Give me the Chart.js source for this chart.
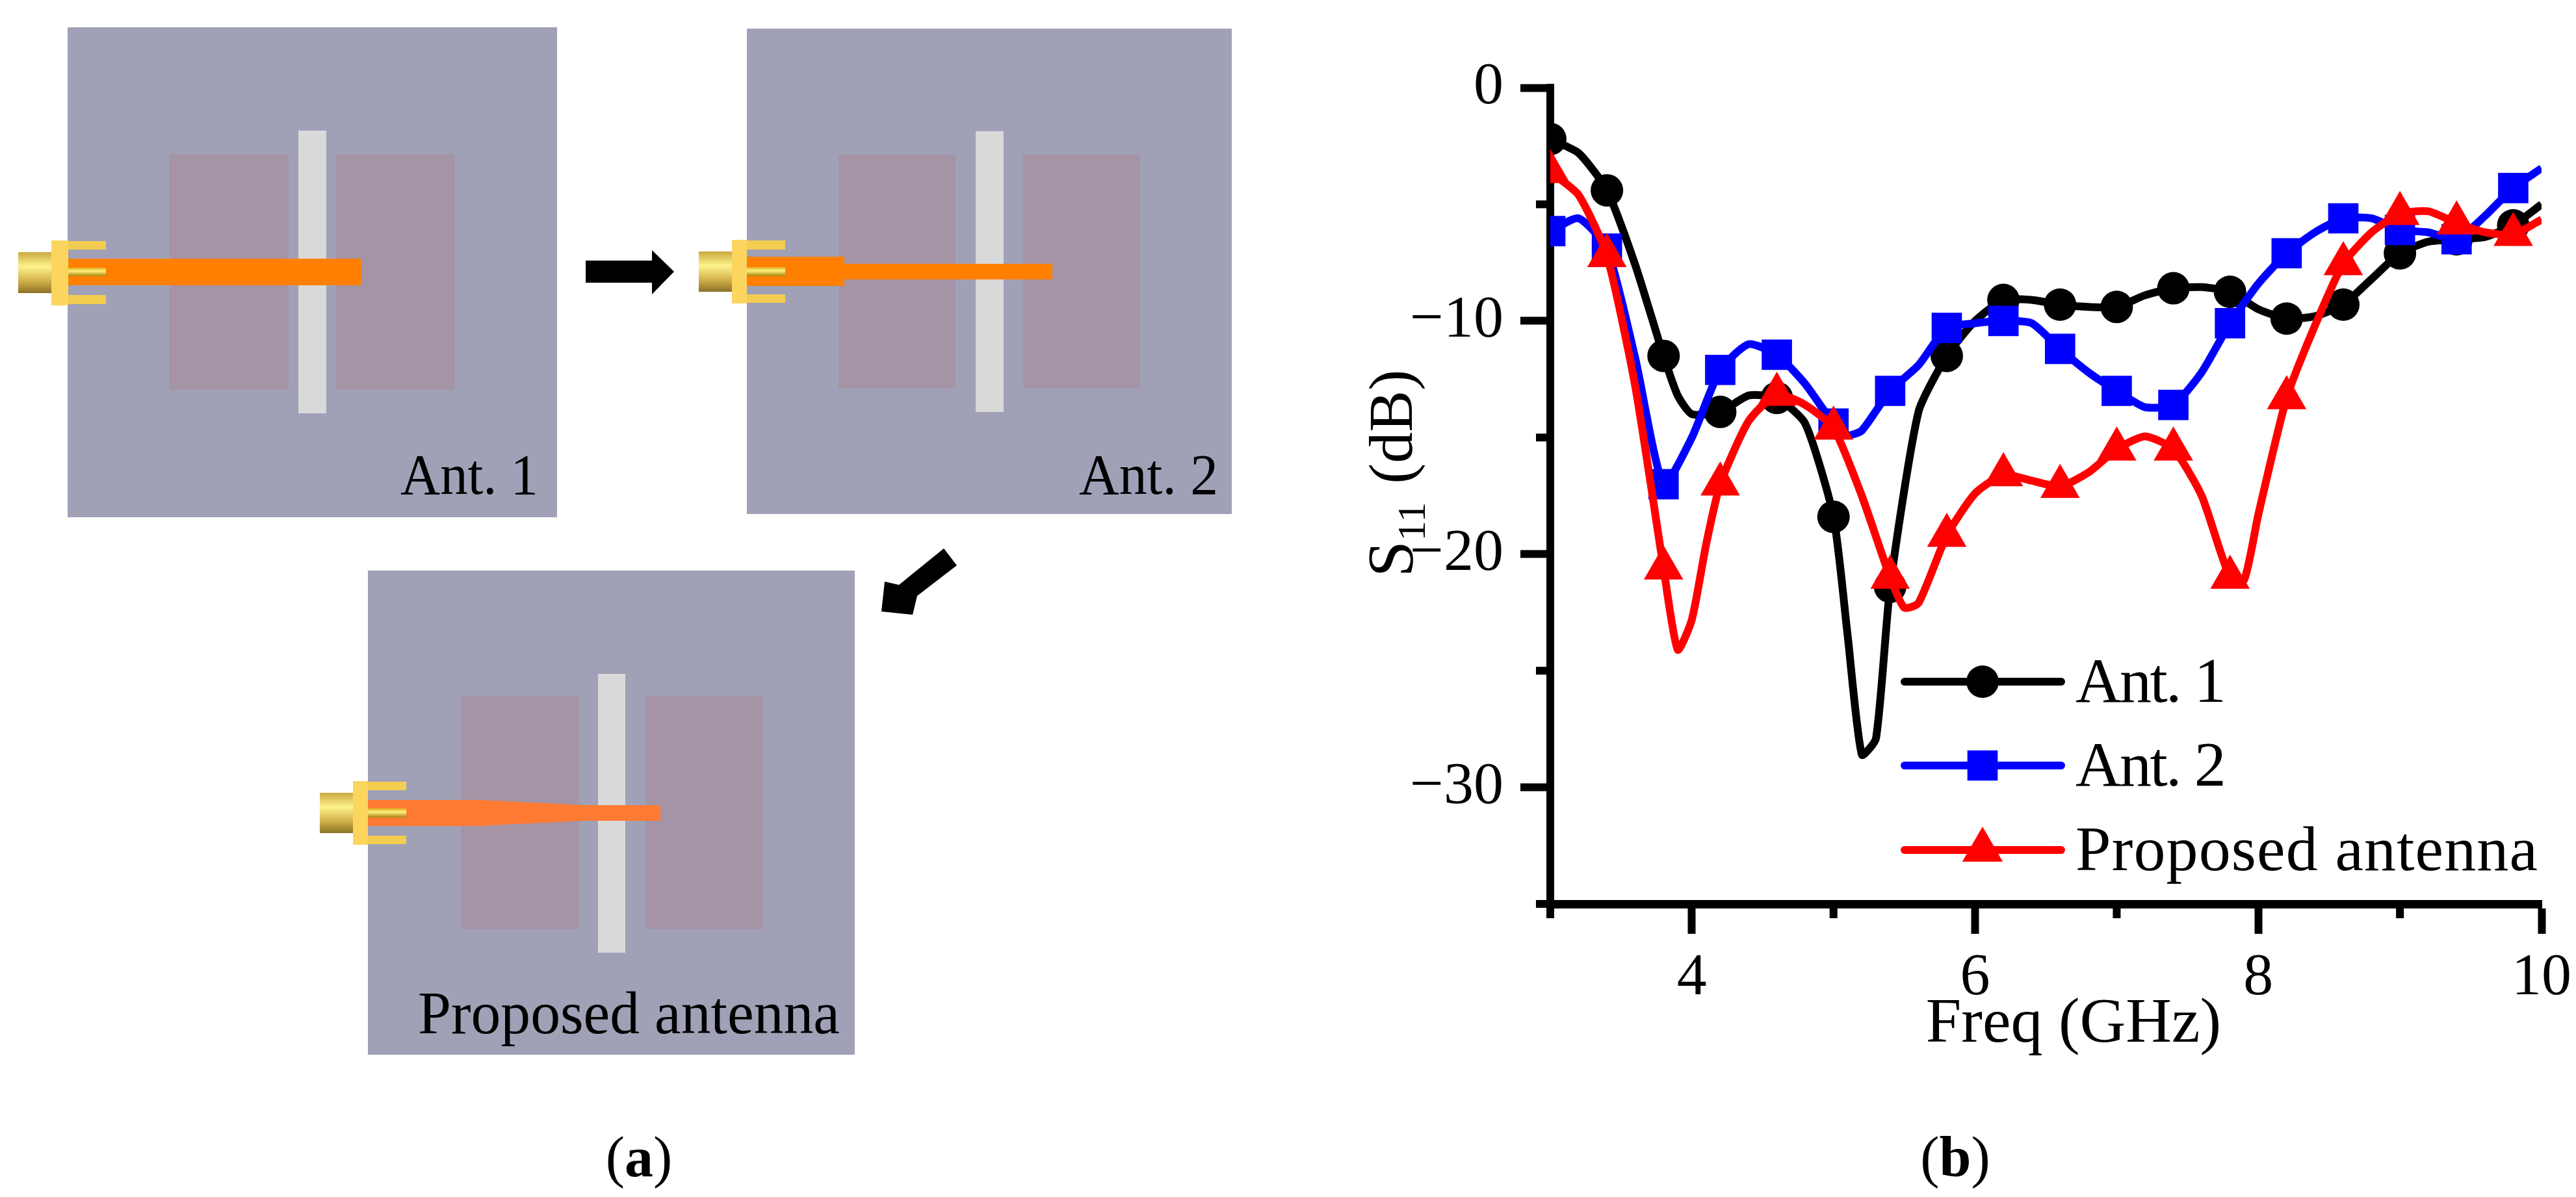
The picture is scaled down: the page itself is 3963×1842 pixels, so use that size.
<!DOCTYPE html>
<html>
<head>
<meta charset="utf-8">
<title>S11 comparison</title>
<script src="https://cdn.jsdelivr.net/npm/chart.js@4/dist/chart.umd.js"></script>
<style>
    html, body { margin: 0; padding: 0; background: #fff; }
    #page { position: relative; width: 3963px; height: 1842px; overflow: hidden; }
    #diagram { position: absolute; left: 0; top: 0; }
    #sChart { position: absolute; left: 2050px; top: 0; }
    text { font-family: "Liberation Serif", serif; fill: #000; }
</style>
</head>
<body>
<div id="page">
    <!-- part (a): antenna layouts -->
    <svg id="diagram" width="3963" height="1842" xmlns="http://www.w3.org/2000/svg">
        <defs>
            <linearGradient id="gold" x1="0" y1="0" x2="0" y2="1">
                <stop offset="0" stop-color="#c9a93f"/>
                <stop offset="0.35" stop-color="#fff28c"/>
                <stop offset="0.7" stop-color="#d3b24a"/>
                <stop offset="1" stop-color="#8a7126"/>
            </linearGradient>
            <linearGradient id="pin" x1="0" y1="0" x2="0" y2="1">
                <stop offset="0" stop-color="#e0b020"/>
                <stop offset="0.4" stop-color="#fff07a"/>
                <stop offset="1" stop-color="#a88410"/>
            </linearGradient>
        </defs>

        <!-- Ant. 1 -->
        <rect x="104" y="42" width="753" height="754" fill="#a0a1b7"/>
        <rect x="261" y="237" width="183" height="363" fill="#a494a6"/>
        <rect x="517" y="237" width="182" height="363" fill="#a494a6"/>
        <rect x="459" y="201" width="43" height="435" fill="#d9d9d9"/>
        <rect x="104" y="398" width="452" height="41" fill="#ff7f00"/>
        <rect x="28" y="388" width="51" height="63" fill="url(#gold)"/>
        <rect x="79" y="370" width="26" height="100" fill="#fcd55f"/>
        <rect x="105" y="371" width="58" height="13" fill="#f3cd50"/>
        <rect x="105" y="454" width="58" height="14" fill="#f3cd50"/>
        <rect x="105" y="412" width="58" height="13" fill="url(#pin)"/>
        <text x="616" y="760" font-size="88" textLength="212" lengthAdjust="spacingAndGlyphs">Ant. 1</text>

        <!-- Ant. 2 -->
        <rect x="1149" y="44" width="746" height="747" fill="#a0a1b7"/>
        <rect x="1290" y="238" width="180" height="360" fill="#a494a6"/>
        <rect x="1574" y="238" width="180" height="360" fill="#a494a6"/>
        <rect x="1501" y="202" width="43" height="432" fill="#d9d9d9"/>
        <rect x="1149" y="395" width="150" height="45" fill="#ff7f00"/>
        <rect x="1299" y="406" width="320" height="24" fill="#ff7f00"/>
        <rect x="1075" y="387" width="51" height="62" fill="url(#gold)"/>
        <rect x="1126" y="369" width="23" height="98" fill="#fcd55f"/>
        <rect x="1149" y="370" width="59" height="14" fill="#f3cd50"/>
        <rect x="1149" y="453" width="59" height="13" fill="#f3cd50"/>
        <rect x="1149" y="411" width="59" height="14" fill="url(#pin)"/>
        <text x="1660" y="760" font-size="88" textLength="214" lengthAdjust="spacingAndGlyphs">Ant. 2</text>

        <!-- Proposed antenna -->
        <rect x="566" y="878" width="749" height="745" fill="#a0a1b7"/>
        <rect x="709" y="1071" width="182" height="359" fill="#a494a6"/>
        <rect x="993" y="1071" width="180" height="359" fill="#a494a6"/>
        <rect x="920" y="1037" width="42" height="429" fill="#d9d9d9"/>
        <polygon points="566,1231 738,1231 899,1239 1016,1239 1016,1263 899,1263 738,1271 566,1271" fill="#ff7a33"/>
        <rect x="492" y="1220" width="51" height="62" fill="url(#gold)"/>
        <rect x="543" y="1202" width="23" height="98" fill="#fcd55f"/>
        <rect x="566" y="1203" width="59" height="13" fill="#f3cd50"/>
        <rect x="566" y="1286" width="59" height="13" fill="#f3cd50"/>
        <rect x="566" y="1244" width="59" height="14" fill="url(#pin)"/>
        <text x="643" y="1590" font-size="94" textLength="649" lengthAdjust="spacingAndGlyphs">Proposed antenna</text>

        <!-- arrows -->
        <polygon points="901,401 1003,401 1003,385 1037,418 1003,453 1003,435 901,435" fill="#000"/>
        <polygon points="1452,844 1472,870 1411,917 1404,946 1356,941 1361,895 1383,900" fill="#000"/>

        <text x="983" y="1810" font-size="88" text-anchor="middle">(<tspan font-weight="bold">a</tspan>)</text>
        <text x="3008" y="1810" font-size="88" text-anchor="middle">(<tspan font-weight="bold">b</tspan>)</text>
    </svg>

    <!-- part (b): S11 curves -->
    <canvas id="sChart" width="1913" height="1842"></canvas>
</div>

<script>
const seriesNames = ['Ant. 1', 'Ant. 2', 'Proposed antenna'];
const xTickLabels = [4, 6, 8, 10];
const yTickLabels = [0, -10, -20, -30];
// symbols sit every 0.4 GHz, the curves have more points than that
const markerFreq = [3, 3.4, 3.8, 4.2, 4.6, 5, 5.4, 5.8, 6.2, 6.6, 7, 7.4, 7.8, 8.2, 8.6, 9, 9.4, 9.8];

const freqAnt1 = [3, 3.2, 3.4, 3.6, 3.8, 3.9, 4, 4.2, 4.4, 4.6, 4.8, 5, 5.1, 5.2, 5.3, 5.4, 5.6, 5.8, 6, 6.2, 6.4, 6.6, 6.8, 7, 7.2, 7.4, 7.6, 7.8, 8, 8.2, 8.4, 8.6, 8.8, 9, 9.2, 9.4, 9.6, 9.8, 10];
const s11Ant1 = [-2.2, -2.8, -4.4, -7.6, -11.5, -13.2, -14, -13.9, -13.2, -13.3, -14.4, -18.4, -23.5, -28.6, -27.9, -21.4, -13.9, -11.5, -10, -9.1, -9.1, -9.3, -9.4, -9.4, -8.9, -8.6, -8.55, -8.75, -9.5, -9.9, -9.8, -9.3, -8.2, -7.1, -6.6, -6.5, -6.4, -5.9, -5];

const freqAnt2 = [3, 3.2, 3.4, 3.6, 3.8, 4, 4.2, 4.4, 4.6, 4.8, 5, 5.1, 5.2, 5.4, 5.6, 5.8, 6, 6.2, 6.4, 6.6, 6.8, 7, 7.2, 7.4, 7.6, 7.8, 8, 8.2, 8.4, 8.6, 8.8, 9, 9.2, 9.4, 9.6, 9.8, 10];
const s11Ant2 = [-6.15, -5.6, -6.9, -11.6, -17, -15, -12.1, -11, -11.45, -12.7, -14.4, -14.9, -14.7, -13, -11.9, -10.3, -10.1, -10, -10.1, -11.2, -12.2, -13, -13.7, -13.6, -12.2, -10.1, -8.4, -7.1, -6.2, -5.6, -5.6, -6.1, -6.2, -6.5, -5.5, -4.3, -3.45];

const freqProposed = [3, 3.2, 3.4, 3.6, 3.8, 3.9, 4, 4.1, 4.2, 4.4, 4.6, 4.8, 5, 5.2, 5.4, 5.5, 5.6, 5.8, 6, 6.2, 6.4, 6.6, 6.8, 7, 7.2, 7.4, 7.6, 7.8, 7.9, 8, 8.2, 8.4, 8.6, 8.8, 9, 9.2, 9.4, 9.6, 9.8, 10];
const s11Proposed = [-3.6, -4.6, -7.2, -12.8, -20.6, -24.1, -22.8, -19.6, -17, -14.3, -13.15, -13.6, -14.6, -17.5, -21, -22.3, -22.1, -19.2, -17.4, -16.6, -16.85, -17.1, -16.5, -15.5, -14.95, -15.5, -17.5, -21, -21.1, -18.3, -13.3, -10.2, -7.55, -6.2, -5.4, -5.3, -5.8, -6.2, -6.3, -5.65];

const FONT = '"Liberation Serif", serif';

function zip(xs, ys){
    return xs.map(function(x, i){ return {x: x, y: ys[i]}; });
}

function isMarker(ctx){
    let p = ctx.raw;
    return p && markerFreq.indexOf(p.x) !== -1;
}

function makeSeries(name, xs, ys, color, style, radius, order){
    return {
        label: name,
        data: zip(xs, ys),
        borderColor: color,
        backgroundColor: color,
        borderWidth: 12,
        borderJoinStyle: 'round',
        tension: 0.2,
        pointStyle: style,
        pointRadius: function(ctx){ return isMarker(ctx) ? radius : 0; },
        pointBorderWidth: 0,
        order: order
    };
}

// short ticks and axis titles, positions come from the scales
const axisExtras = {
    id: 'axisExtras',
    afterDraw: function(chart){
        let ctx = chart.ctx;
        let xs = chart.scales.x;
        let ys = chart.scales.y;
        ctx.save();
        ctx.fillStyle = '#000';
        xs.ticks.forEach(function(t){
            if(xTickLabels.indexOf(t.value) === -1){
                ctx.fillRect(xs.getPixelForValue(t.value) - 6, ys.bottom, 12, 22);
            }
        });
        ys.ticks.forEach(function(t){
            if(yTickLabels.indexOf(t.value) === -1){
                ctx.fillRect(xs.left - 22, ys.getPixelForValue(t.value) - 6, 22, 12);
            }
        });

        ctx.textBaseline = 'alphabetic';
        ctx.font = '98px ' + FONT;
        ctx.textAlign = 'center';
        ctx.fillText('Freq (GHz)', xs.left + 805, 1603);

        ctx.translate(122, 888);
        ctx.rotate(-Math.PI / 2);
        ctx.textAlign = 'left';
        ctx.font = '100px ' + FONT;
        ctx.fillText('S', 0, 0);
        let w = ctx.measureText('S').width;
        ctx.font = '62px ' + FONT;
        ctx.fillText('11', w, 20);
        w += ctx.measureText('11').width;
        ctx.font = '96px ' + FONT;
        ctx.fillText(' (dB)', w + 4, 0);
        ctx.restore();
    }
};

// legend sits inside the plot
const insideLegend = {
    id: 'insideLegend',
    afterDraw: function(chart){
        let ctx = chart.ctx;
        let rows = [1049, 1178, 1308];
        let textWidths = [229, 229, 712];
        ctx.save();
        chart.data.datasets.forEach(function(ds, i){
            let y = rows[i];
            ctx.strokeStyle = ds.borderColor;
            ctx.fillStyle = ds.borderColor;
            ctx.lineWidth = 12;
            ctx.lineCap = 'round';
            ctx.beginPath();
            ctx.moveTo(880, y);
            ctx.lineTo(1121, y);
            ctx.stroke();
            Chart.helpers.drawPoint(ctx, {pointStyle: ds.pointStyle, radius: ds.legendRadius, rotation: 0, borderWidth: 0}, 1000, y);

            ctx.fillStyle = '#000';
            ctx.font = '98px ' + FONT;
            ctx.textAlign = 'left';
            ctx.textBaseline = 'alphabetic';
            ctx.letterSpacing = '0px';
            let extra = (textWidths[i] - ctx.measureText(seriesNames[i]).width) / seriesNames[i].length;
            ctx.letterSpacing = extra.toFixed(2) + 'px';
            ctx.fillText(seriesNames[i], 1143, y + 31);
            ctx.letterSpacing = '0px';
        });
        ctx.restore();
    }
};

let datasets = [
    makeSeries(seriesNames[0], freqAnt1, s11Ant1, '#000000', 'circle', 25, 3),
    makeSeries(seriesNames[1], freqAnt2, s11Ant2, '#0000ff', 'rect', 33, 2),
    makeSeries(seriesNames[2], freqProposed, s11Proposed, '#ff0000', 'triangle', 35, 1)
];
datasets[0].legendRadius = 25;
datasets[1].legendRadius = 33;
datasets[2].legendRadius = 36;

new Chart(document.getElementById('sChart'), {
    type: 'line',
    data: {datasets: datasets},
    plugins: [axisExtras, insideLegend],
    options: {
        responsive: false,
        animation: false,
        layout: {padding: {top: 135, right: 53}},
        plugins: {
            legend: {display: false},
            tooltip: {enabled: false}
        },
        scales: {
            x: {
                type: 'linear',
                min: 3,
                max: 10,
                afterFit: function(scale){
                    scale.height = 451;
                    scale.paddingLeft = 0;
                    scale.paddingRight = 0;
                },
                border: {display: true, color: '#000', width: 13},
                grid: {
                    drawOnChartArea: false,
                    tickLength: 46,
                    tickWidth: 12,
                    tickColor: function(ctx){
                        return xTickLabels.indexOf(ctx.tick.value) !== -1 ? '#000' : 'rgba(0,0,0,0)';
                    }
                },
                ticks: {
                    stepSize: 1,
                    autoSkip: false,
                    maxRotation: 0,
                    padding: 14,
                    color: '#000',
                    font: {family: FONT, size: 92},
                    callback: function(v){
                        return xTickLabels.indexOf(v) !== -1 ? String(v) : '';
                    }
                }
            },
            y: {
                min: -35,
                max: 0,
                afterFit: function(scale){
                    scale.width = 335;
                    scale.paddingTop = 0;
                    scale.paddingBottom = 0;
                },
                border: {display: true, color: '#000', width: 12},
                grid: {
                    drawOnChartArea: false,
                    tickLength: 46,
                    tickWidth: 12,
                    tickColor: function(ctx){
                        return yTickLabels.indexOf(ctx.tick.value) !== -1 ? '#000' : 'rgba(0,0,0,0)';
                    }
                },
                ticks: {
                    stepSize: 5,
                    autoSkip: false,
                    padding: 26,
                    color: '#000',
                    font: {family: FONT, size: 92},
                    callback: function(v){
                        return yTickLabels.indexOf(v) !== -1 ? String(v).replace('-', '\u2212') : '';
                    }
                }
            }
        }
    }
});
</script>
</body>
</html>
